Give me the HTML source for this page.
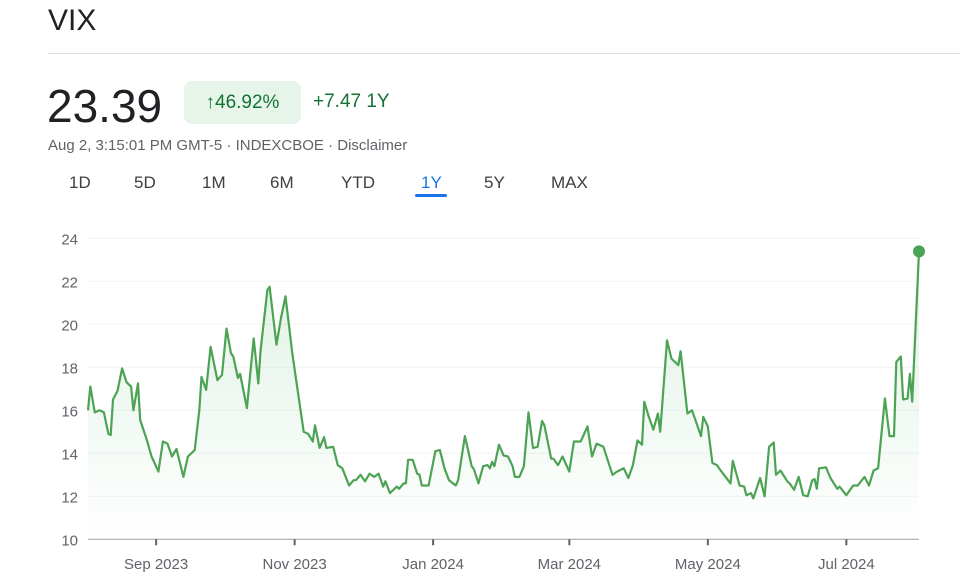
<!DOCTYPE html>
<html><head><meta charset="utf-8">
<style>
body{margin:0;width:960px;height:585px;background:#fff;font-family:"Liberation Sans",Arial,sans-serif;overflow:hidden;position:relative;color:#202124}
.abs{position:absolute}
#title{left:48px;top:4px;font-size:30px;color:#202124}
#hr{left:48px;top:53px;width:912px;height:1px;background:#e0e0e0}
#price{left:47px;top:79px;font-size:46px;color:#202124}
#badge{left:184px;top:81px;width:117px;height:43px;background:#e6f4ea;border-radius:8px;color:#137333;font-size:19px;line-height:43px;text-align:center}
#chg{left:313px;top:91px;font-size:19px;color:#137333}
#sub{left:48px;top:137px;font-size:15px;color:#5f6368}
.tab{top:173px;font-size:17px;color:#3c4043}
#t1y{color:#1a73e8}
#ul{left:415px;top:194px;width:32px;height:3px;border-radius:2px;background:#1a73e8}
</style></head><body>
<div class="abs" id="title">VIX</div>
<div class="abs" id="hr"></div>
<div class="abs" id="price">23.39</div>
<div class="abs" id="badge">↑46.92%</div>
<div class="abs" id="chg">+7.47 1Y</div>
<div class="abs" id="sub">Aug 2, 3:15:01 PM GMT-5 · INDEXCBOE · Disclaimer</div>
<div class="abs tab" style="left:69px">1D</div>
<div class="abs tab" style="left:134px">5D</div>
<div class="abs tab" style="left:202px">1M</div>
<div class="abs tab" style="left:270px">6M</div>
<div class="abs tab" style="left:341px">YTD</div>
<div class="abs tab" id="t1y" style="left:421px">1Y</div>
<div class="abs" id="ul"></div>
<div class="abs tab" style="left:484px">5Y</div>
<div class="abs tab" style="left:551px">MAX</div>
<svg class="abs" style="left:0;top:0" width="960" height="585" id="chart">
<defs><linearGradient id="g" x1="0" y1="0" x2="0" y2="1">
<stop offset="0" stop-color="#34a853" stop-opacity="0.16"/><stop offset="1" stop-color="#34a853" stop-opacity="0"/></linearGradient></defs>
</svg>
<script>
const days=[0,1,3,5,7,9,10,11,13,15,17,19,20,22,23,26,28,31,33,35,37,39,42,44,47,49,50,52,54,57,59,61,63,64,66,67,70,73,75,76,79,80,83,85,87,90,95,97,99,100,102,104,105,108,110,112,115,117,118,120,122,124,126,128,130,131,133,136,137,139,140,141,143,145,146,147,150,153,155,157,159,162,163,166,169,170,172,174,176,177,178,179,181,183,185,187,188,190,192,194,196,198,200,201,204,205,207,209,212,214,217,220,222,224,227,231,233,236,238,240,242,244,245,247,249,251,252,255,257,260,261,264,266,268,270,271,273,275,277,279,283,284,287,289,290,292,293,296,298,300,302,303,305,308,309,311,313,315,317,319,320,321,322,325,327,330,331,334,337,339,342,344,346,348,351,353,355,356,358,359,361,362,363,366];
const values=[16.0,17.1,15.9,16.0,15.9,14.9,14.85,16.5,16.9,17.95,17.3,17.1,16.0,17.25,15.55,14.6,13.85,13.15,14.55,14.45,13.85,14.2,12.9,13.85,14.15,16.0,17.55,16.95,18.95,17.4,17.65,19.8,18.65,18.5,17.5,17.7,16.1,19.35,17.25,18.8,21.6,21.75,19.05,20.3,21.3,18.65,15.0,14.9,14.55,15.3,14.25,14.75,14.25,14.3,13.45,13.3,12.5,12.75,12.75,13.0,12.7,13.05,12.9,13.05,12.45,12.7,12.15,12.45,12.35,12.6,12.6,13.7,13.7,13.05,13.0,12.5,12.5,14.1,14.15,13.3,12.75,12.5,12.75,14.8,13.4,13.25,12.6,13.4,13.45,13.3,13.6,13.4,14.4,13.9,13.85,13.4,12.9,12.9,13.4,15.9,14.25,14.3,15.5,15.3,13.75,13.75,13.45,13.85,13.15,14.55,14.55,15.25,13.85,14.45,14.3,13.0,13.15,13.3,12.85,13.45,14.6,14.4,16.4,15.7,15.1,15.85,15.0,19.25,18.4,18.1,18.75,15.85,16.0,15.4,14.8,15.7,15.25,13.55,13.45,13.15,12.6,13.65,12.5,12.45,12.05,12.15,11.9,12.85,12.0,14.3,14.5,13.0,13.2,12.7,12.6,12.3,12.9,12.05,12.0,12.75,12.8,12.35,13.3,13.35,12.85,12.35,12.45,12.05,12.5,12.5,12.9,12.5,13.2,13.3,16.55,14.8,14.8,18.25,18.5,16.5,16.55,17.7,16.4,23.39];
const yTicks=[10,12,14,16,18,20,22,24];
const xTickLabels=["Sep 2023","Nov 2023","Jan 2024","Mar 2024","May 2024","Jul 2024"];
const xTickDays=[30,91,152,212,273,334];
const NS="http://www.w3.org/2000/svg";
const svg=document.getElementById('chart');
const X0=88,X1=919,DMAX=366,Y10=539.3,PX=21.5;
function xs(d){return X0+(X1-X0)*d/DMAX;}
function ys(v){return Y10-(v-10)*PX;}
function mk(t,a){const e=document.createElementNS(NS,t);for(const k in a)e.setAttribute(k,a[k]);svg.appendChild(e);return e;}
yTicks.forEach(v=>{
  if(v>10){const l=mk('line',{x1:X0,x2:X1,y1:ys(v),y2:ys(v),stroke:'#f1f3f4','stroke-width':1});
  
  }
  const t=mk('text',{x:78,y:ys(v)+6,'text-anchor':'end','font-size':15,fill:'#5f6368','font-family':'Liberation Sans, sans-serif'});
  t.textContent=v;
  
  
});
const ax=mk('line',{x1:X0,x2:X1,y1:Y10,y2:Y10,stroke:'#9aa0a6','stroke-width':1});


xTickDays.forEach((d,i)=>{
  const tk=mk('line',{x1:xs(d),x2:xs(d),y1:Y10,y2:Y10+6,stroke:'#5f6368','stroke-width':2});
  
  
  const t=mk('text',{x:xs(d),y:569,'text-anchor':'middle','font-size':15,fill:'#5f6368','font-family':'Liberation Sans, sans-serif'});
  t.textContent=xTickLabels[i];
  
  
});
let p='';
days.forEach((d,i)=>{p+=(i?'L':'M')+xs(d).toFixed(1)+','+ys(values[i]).toFixed(1);});
const area=mk('path',{d:p+'L'+xs(days[days.length-1])+','+Y10+'L'+xs(days[0])+','+Y10+'Z',fill:'url(#g)'});


const line=mk('path',{d:p,fill:'none',stroke:'#4ca354','stroke-width':2.2,'stroke-linejoin':'round'});


const n=days.length-1;
const dot=mk('circle',{cx:xs(days[n]),cy:ys(values[n]),r:6,fill:'#4ca354'});


</script>
</body></html>
